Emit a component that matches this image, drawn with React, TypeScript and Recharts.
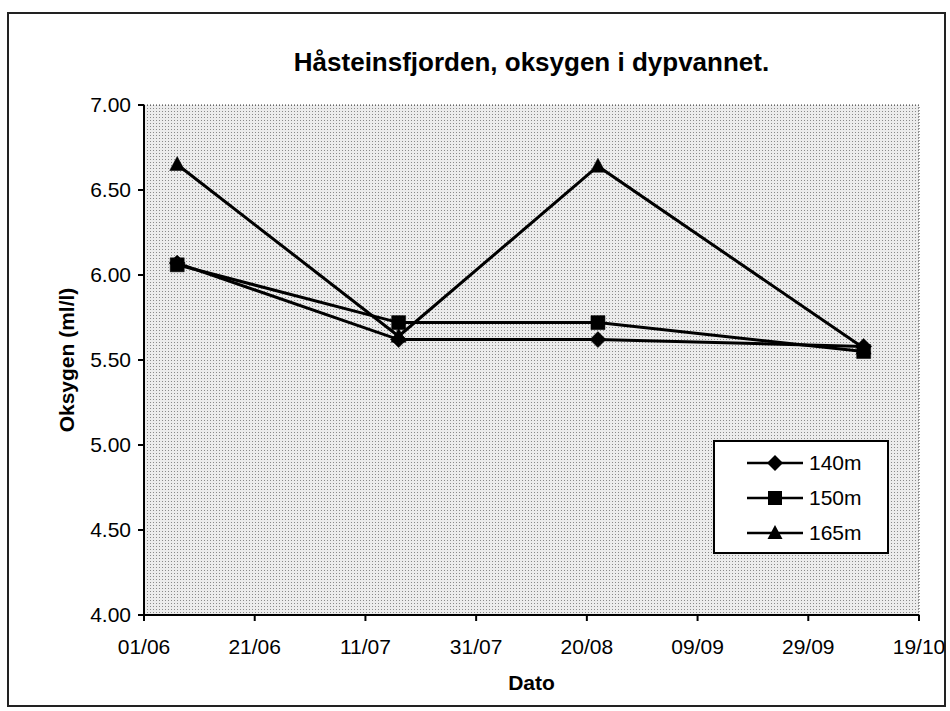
import React from 'react';
import { LineChart, Line, XAxis, YAxis, CartesianGrid, Legend, ReferenceLine } from 'recharts';

const sampleDates = ['07/06', '17/07', '22/08', '09/10'];
const oxy140 = [6.07, 5.62, 5.62, 5.58];
const oxy150 = [6.06, 5.72, 5.72, 5.55];
const oxy165 = [6.65, 5.64, 6.64, 5.57];
const xTickLabels = ['01/06', '21/06', '11/07', '31/07', '20/08', '09/09', '29/09', '19/10'];
const yTicks = [4.0, 4.5, 5.0, 5.5, 6.0, 6.5, 7.0];
const seriesNames = ['140m', '150m', '165m'];

const START = Date.UTC(2000, 5, 1);
const DAY = 86400000;
const toDay = (s: string) => {
  const [d, m] = s.split('/').map(Number);
  return Math.round((Date.UTC(2000, m - 1, d) - START) / DAY);
};
const fromDay = (n: number) => {
  const dt = new Date(START + n * DAY);
  const dd = String(dt.getUTCDate()).padStart(2, '0');
  const mm = String(dt.getUTCMonth() + 1).padStart(2, '0');
  return `${dd}/${mm}`;
};
const xTicks = xTickLabels.map(toDay);

const data = sampleDates.map((d, i) => ({
  day: toDay(d),
  m140: oxy140[i],
  m150: oxy150[i],
  m165: oxy165[i],
}));

const FONT = '"Liberation Sans", Arial, sans-serif';

const markerPath = (shape: string, cx: number, cy: number) => {
  if (shape === 'diamond') {
    const r = 8;
    return `M${cx},${cy - r} L${cx + r},${cy} L${cx},${cy + r} L${cx - r},${cy} Z`;
  }
  if (shape === 'square') {
    const h = 7;
    return `M${cx - h},${cy - h} h${2 * h} v${2 * h} h${-2 * h} Z`;
  }
  return `M${cx},${cy - 8} L${cx + 7.5},${cy + 6} L${cx - 7.5},${cy + 6} Z`;
};

const makeDot = (shape: string) => (props: any) => {
  const { cx, cy, index } = props;
  if (cx == null || cy == null) return <g key={index} />;
  return <path key={index} d={markerPath(shape, cx, cy)} fill="#000" stroke="#000" strokeWidth={0.5} />;
};

const shapes = ['diamond', 'square', 'triangle'];

const LegendBox = () => (
  <div
    style={{
      position: 'relative',
      width: 176,
      height: 114,
      border: '2px solid #000',
      background: '#fff',
      boxSizing: 'border-box',
      fontFamily: FONT,
    }}
  >
    {seriesNames.map((n, i) => (
      <div
        key={n}
        style={{ position: 'absolute', left: 30, top: 6 + i * 35, height: 30, display: 'flex', alignItems: 'center' }}
      >
        <svg width={60} height={30}>
          <line x1={2} y1={15} x2={58} y2={15} stroke="#000" strokeWidth={2.5} />
          <path d={markerPath(shapes[i], 30, 15)} fill="#000" />
        </svg>
        <span style={{ fontSize: 21, marginLeft: 4, color: '#000', lineHeight: '30px' }}>{n}</span>
      </div>
    ))}
  </div>
);

export default function App() {
  return (
    <div style={{ position: 'absolute', left: 0, top: 0, width: 950, height: 711, background: '#fff' }}>
      <svg width={0} height={0} style={{ position: 'absolute' }}>
        <defs>
          <pattern id="dots" width={3} height={3} patternUnits="userSpaceOnUse">
            <rect width={3} height={3} fill="#ececec" />
            <rect x={0} y={0} width={1} height={1} fill="#8a8a8a" />
          </pattern>
        </defs>
      </svg>
      <div
        style={{
          position: 'absolute',
          left: 7,
          top: 12,
          width: 939,
          height: 695,
          border: '2px solid #222',
          boxSizing: 'border-box',
        }}
      />
      <div
        style={{
          position: 'absolute',
          left: 144,
          width: 775,
          top: 47,
          lineHeight: '30px',
          textAlign: 'center',
          fontFamily: FONT,
          fontWeight: 'bold',
          fontSize: 26,
          color: '#000',
        }}
      >
        Håsteinsfjorden, oksygen i dypvannet.
      </div>
      <div style={{ position: 'absolute', left: 0, top: 0 }}>
        <LineChart
          width={950}
          height={711}
          data={data}
          margin={{ top: 105, right: 31, bottom: 6, left: 84 }}
        >
          <CartesianGrid horizontal={false} vertical={false} fill="url(#dots)" />
          <XAxis
            dataKey="day"
            type="number"
            domain={[0, 140]}
            ticks={xTicks}
            tickFormatter={fromDay}
            height={90}
            tickSize={6}
            tickMargin={18}
            stroke="#000"
            strokeWidth={2}
            tick={{ fill: '#000', fontSize: 21, fontFamily: FONT }}
            label={{
              value: 'Dato',
              position: 'insideBottom',
              offset: 15,
              style: { fontFamily: FONT, fontWeight: 'bold', fontSize: 21, fill: '#000' },
            }}
          />
          <YAxis
            type="number"
            domain={[4, 7]}
            ticks={yTicks}
            tickFormatter={(v: number) => v.toFixed(2)}
            width={60}
            tickSize={6}
            tickMargin={7}
            stroke="#000"
            strokeWidth={2}
            tick={{ fill: '#000', fontSize: 21, fontFamily: FONT }}
            label={{
              value: 'Oksygen (ml/l)',
              angle: -90,
              position: 'center',
              dx: -47,
              style: { fontFamily: FONT, fontWeight: 'bold', fontSize: 21, fill: '#000', textAnchor: 'middle' },
            }}
          />
          <ReferenceLine y={7} stroke="#444" strokeDasharray="1 2" />
          <ReferenceLine x={140} stroke="#444" strokeDasharray="1 2" />
          <Line dataKey="m140" name="140m" stroke="#000" strokeWidth={3} dot={makeDot('diamond')} isAnimationActive={false} />
          <Line dataKey="m150" name="150m" stroke="#000" strokeWidth={3} dot={makeDot('square')} isAnimationActive={false} />
          <Line dataKey="m165" name="165m" stroke="#000" strokeWidth={3} dot={makeDot('triangle')} isAnimationActive={false} />
          <Legend
            layout="vertical"
            align="center"
            verticalAlign="middle"
            content={<LegendBox />}
            wrapperStyle={{ position: 'absolute', left: 713, top: 440, width: 176, height: 114 }}
          />
        </LineChart>
      </div>
    </div>
  );
}
